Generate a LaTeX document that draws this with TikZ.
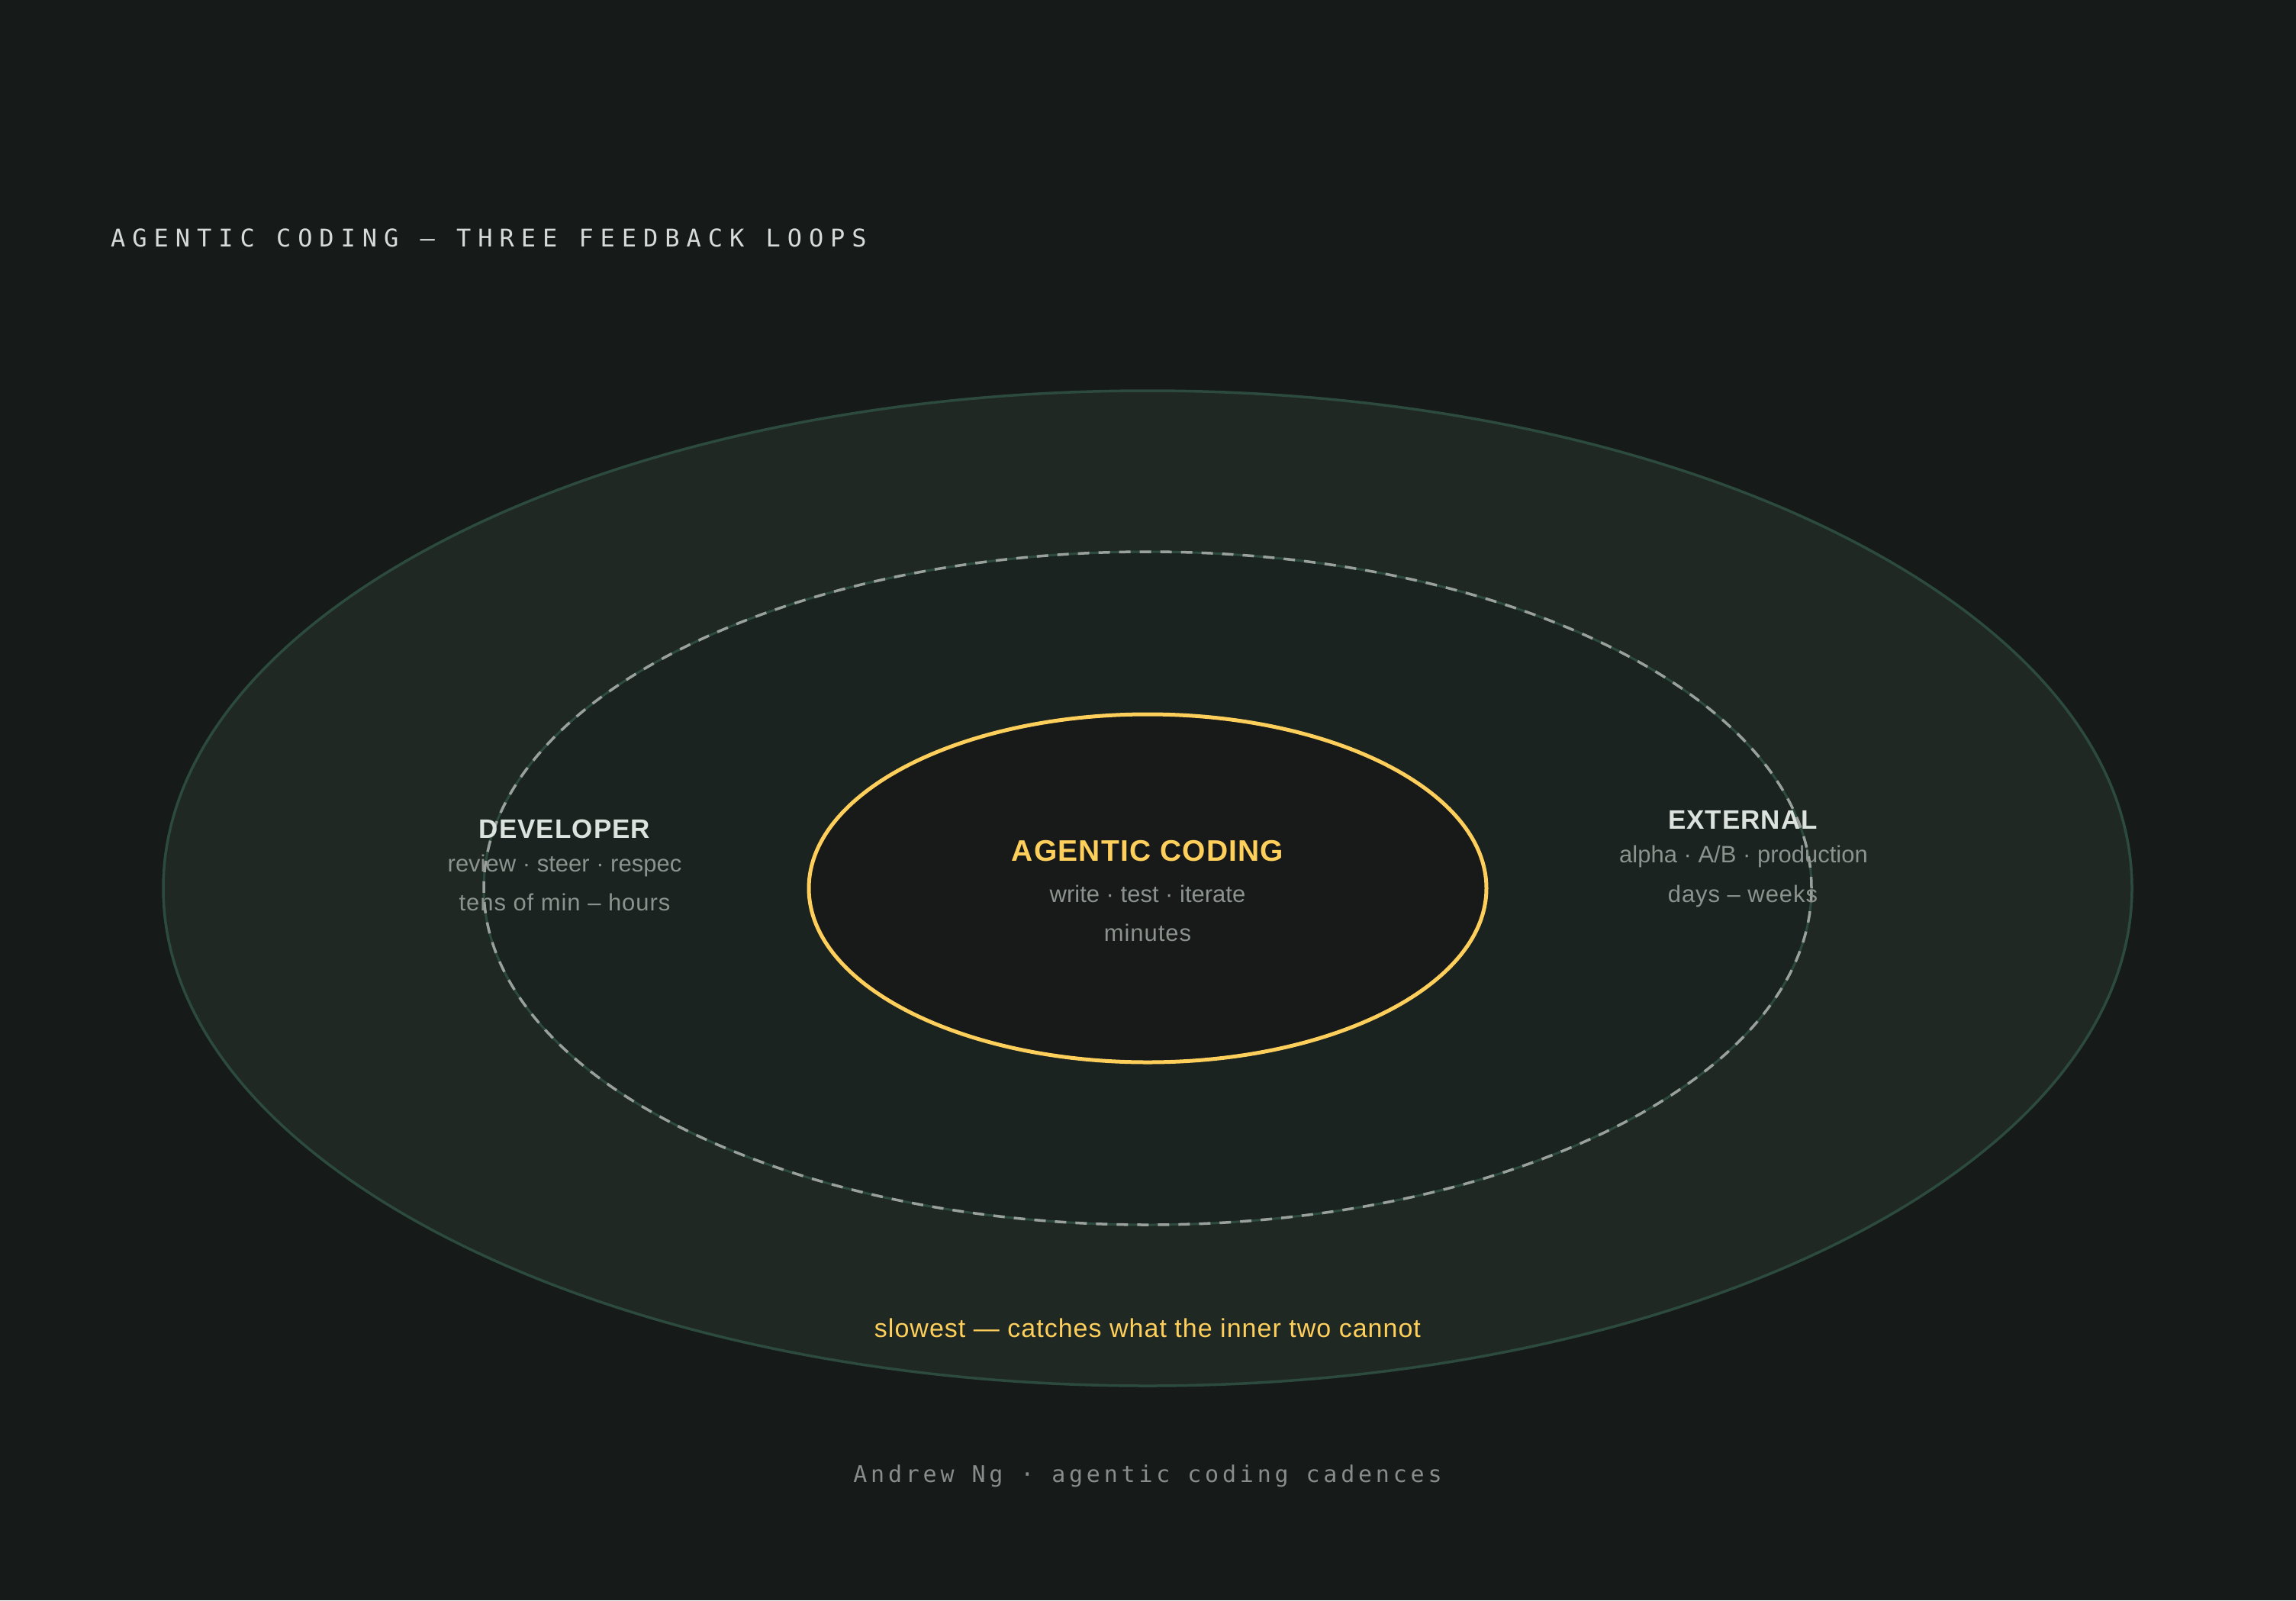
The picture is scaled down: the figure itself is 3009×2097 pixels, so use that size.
\documentclass[tikz,border=0pt]{standalone}
\usepackage{fontspec}
\setmainfont{Liberation Sans}
\newfontfamily\titlemono[LetterSpace=28]{DejaVu Sans Mono}
\newfontfamily\footmono[LetterSpace=16]{DejaVu Sans Mono}
\newfontfamily\namefont[LetterSpace=3]{Liberation Sans}
\newfontfamily\spanfont[LetterSpace=3]{Liberation Sans}
\usepackage{tikz}
\usetikzlibrary{positioning}
\usepackage{xcolor}

\definecolor{bgdark}{HTML}{161A19}
\definecolor{outerfill}{HTML}{1F2822}
\definecolor{outerline}{HTML}{2C4A3E}
\definecolor{midfill}{HTML}{1B2321}
\definecolor{dashgray}{HTML}{9AA19D}
\definecolor{innerfill}{HTML}{171A19}
\definecolor{loopyellow}{HTML}{FFCF5C}
\definecolor{namegray}{HTML}{DCE3DF}
\definecolor{notegray}{HTML}{8C938F}
\definecolor{titlegray}{HTML}{D6DAD8}
\definecolor{footgray}{HTML}{878D8A}

\begin{document}
\begin{tikzpicture}[x=1pt, y=-1pt, line cap=round, line join=round,
    loopname/.style={anchor=base, inner sep=0pt, text=namegray,
        font=\namefont\bfseries\fontsize{35}{42}\selectfont},
    loopnote/.style={anchor=base, inner sep=0pt, text=notegray,
        font=\fontsize{31}{37}\selectfont},
    loopspan/.style={loopnote, font=\spanfont\fontsize{31}{37}\selectfont}]
            % background and page size
            \fill[bgdark] (0,0) rectangle (3009,2097);
            \useasboundingbox (0,0) rectangle (3009,2097);

            % centre of the loops
            \coordinate (C) at (1504,1164);

            % outer loop (external)
            \filldraw[fill=outerfill, draw=outerline, line width=3.5pt]
                (C) ellipse [x radius=1290pt, y radius=652pt];

            % middle loop (developer), dashed
            \filldraw[fill=midfill, draw=outerline, line width=3pt]
                (C) ellipse [x radius=870pt, y radius=441pt];
            \draw[dashgray, line width=3.5pt, line cap=butt, dash pattern=on 15pt off 12pt]
                (C) ellipse [x radius=870pt, y radius=441pt];

            % inner loop (agent)
            \filldraw[fill=innerfill, draw=loopyellow, line width=5pt]
                (C) ellipse [x radius=444pt, y radius=228pt];

            % title
            \node (title) at (145,323) [anchor=base west, inner sep=0pt, text=titlegray,
                font=\titlemono\fontsize{32}{38}\selectfont] {AGENTIC CODING — THREE FEEDBACK LOOPS};

            % inner loop text
            \node (agent) at (1504,1128) [loopname, text=loopyellow,
                font=\namefont\bfseries\fontsize{39}{46}\selectfont] {AGENTIC CODING};
            \node (agentsteps) at (1504,1182) [loopnote] {write · test · iterate};
            \node (agenttime) at (1504,1233) [loopspan] {minutes};

            % middle loop text
            \node (dev) at (740,1098) [loopname] {DEVELOPER};
            \node (devsteps) at (740,1142) [loopnote] {review · steer · respec};
            \node (devtime) at (740,1193) [loopspan] {tens of min – hours};

            % outer loop text
            \node (ext) at (2284,1086) [loopname] {EXTERNAL};
            \node (extsteps) at (2285,1130) [loopnote] {alpha · A/B · production};
            \node (exttime) at (2284,1182) [loopspan] {days – weeks};

            % note on the outer loop
            \node (slow) at (1504,1752) [anchor=base, inner sep=0pt, text=loopyellow,
                font=\namefont\fontsize{34}{40}\selectfont] {slowest — catches what the inner two cannot};

            % footer
            \node (foot) at (1504,1942) [anchor=base, inner sep=0pt, text=footgray,
                font=\footmono\fontsize{30}{36}\selectfont] {Andrew Ng · agentic coding cadences};
        \end{tikzpicture}
\end{document}
